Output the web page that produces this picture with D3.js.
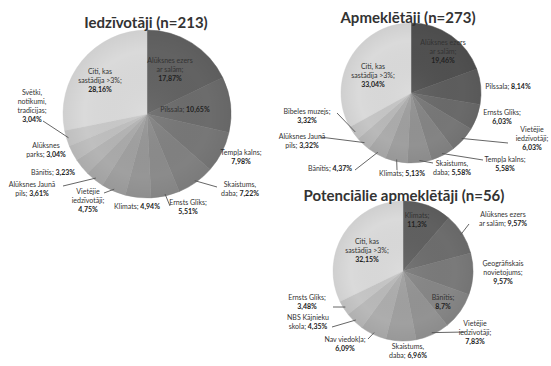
<!DOCTYPE html>
<html>
<head>
<meta charset="utf-8">
<script src="https://cdn.jsdelivr.net/npm/d3@7"></script>
<style>
  html, body { margin: 0; padding: 0; background: #fff; }
  svg { display: block; }
  .title { font-family: Lato, "Open Sans", sans-serif; font-weight: 700; fill: #333; }
  .lbl { font-family: Lato, "Open Sans", sans-serif; font-size: 7px; fill: #333; }
  .lbl .val { font-weight: 700; fill: #222; }
</style>
</head>
<body>
<svg id="chart" width="551" height="366"></svg>
<script>
// Residents (n=213)
const residentsCategories = ["Alūksnes ezers\nar salām", "Pilssala", "Tempļa kalns", "Skaistums,\ndaba", "Ernsts Glīks", "Klimats", "Vietējie\niedzīvotāji", "Alūksnes Jaunā\npils", "Bānītis", "Alūksnes\nparks", "Svētki,\nnotikumi,\ntradīcijas", "Citi, kas\nsastādīja >3%"];
const residentsValues = [17.87, 10.65, 7.98, 7.22, 5.51, 4.94, 4.75, 3.61, 3.23, 3.04, 3.04, 28.16];

// Visitors (n=273)
const visitorsCategories = ["Alūksnes ezers\nar salām", "Pilssala", "Ernsts Glīks", "Vietējie\niedzīvotāji", "Tempļa kalns", "Skaistums,\ndaba", "Klimats", "Bānītis", "Alūksnes Jaunā\npils", "Bībeles muzejs", "Citi, kas\nsastādīja >3%"];
const visitorsValues = [19.46, 8.14, 6.03, 6.03, 5.58, 5.58, 5.13, 4.37, 3.32, 3.32, 33.04];

// Potential visitors (n=56)
const potentialCategories = ["Klimats", "Alūksnes ezers\nar salām", "Ģeogrāfiskais\nnovietojums", "Bānītis", "Vietējie\niedzīvotāji", "Skaistums,\ndaba", "Nav viedokļa", "NBS Kājnieku\nskola", "Ernsts Glīks", "Citi, kas\nsastādīja >3%"];
const potentialValues = [11.3, 9.57, 9.57, 8.7, 7.83, 6.96, 6.09, 4.35, 3.48, 32.15];

const chartTitles = ["Iedzīvotāji (n=213)", "Apmeklētāji (n=273)", "Potenciālie apmeklētāji (n=56)"];

// Label placement relative to each pie centre: label anchor (dx, dy),
// whether the value goes on its own line, and optional leader-line end.
const residentsLayout = [
  {dx: 23, dy: -53, nl: true},
  {dx: 38, dy: -4, nl: false},
  {dx: 94, dy: 39, nl: true},
  {dx: 93, dy: 71, nl: false, lead: [70, 73]},
  {dx: 41, dy: 89, nl: true, lead: [23, 92]},
  {dx: -10, dy: 93, nl: false},
  {dx: -59, dy: 78, nl: true, lead: [-43, 79]},
  {dx: -115, dy: 71, nl: false, lead: [-84, 72]},
  {dx: -94, dy: 59, nl: false},
  {dx: -101, dy: 32, nl: false},
  {dx: -115, dy: -21, nl: true, lead: [-104, 7]},
  {dx: -47, dy: -42, nl: true}
];
const visitorsLayout = [
  {dx: 32, dy: -50, nl: true},
  {dx: 97, dy: -6, nl: false},
  {dx: 91, dy: 20, nl: true},
  {dx: 121, dy: 37, nl: true, lead: [97, 50]},
  {dx: 94, dy: 67, nl: true, lead: [72, 67]},
  {dx: 41, dy: 71, nl: false, lead: [22, 70]},
  {dx: -9, dy: 81, nl: false, lead: [-14, 77]},
  {dx: -81, dy: 76, nl: false, lead: [-56, 77]},
  {dx: -109, dy: 44, nl: false, lead: [-91, 44]},
  {dx: -104, dy: 19, nl: true, lead: [-74, 20]},
  {dx: -38, dy: -26, nl: true}
];
const potentialLayout = [
  {dx: 14, dy: -55, nl: true},
  {dx: 100, dy: -56, nl: false, lead: [66, -47]},
  {dx: 100, dy: -7, nl: true},
  {dx: 40, dy: 27, nl: true},
  {dx: 72, dy: 53, nl: true, lead: [62, 61]},
  {dx: 5, dy: 76, nl: false},
  {dx: -58, dy: 69, nl: true, lead: [-35, 68]},
  {dx: -95, dy: 47, nl: false, lead: [-71, 56]},
  {dx: -96, dy: 27, nl: true, lead: [-70, 36]},
  {dx: -36, dy: -29, nl: true}
];

const svg = d3.select("#chart");
const defs = svg.append("defs");
const fmt = v => String(v).replace(".", ",") + "%";

function drawPie(cfg) {
  const {id, cx, cy, r, cats, vals, layout, dark, light, title, titleY, titleX, titleSize} = cfg;
  const g = svg.append("g").attr("transform", `translate(${cx},${cy})`);
  const pie = d3.pie().sort(null).value(d => d);
  const arcs = pie(vals);
  const n = vals.length;
  const shade = d3.scaleLinear().domain([0, n - 2]).range([dark, light]).interpolate(d3.interpolateRgb);
  const color = i => i === n - 1 ? "#dadada" : shade(i);
  const arc = d3.arc().innerRadius(0).outerRadius(r);

  g.selectAll("path.slice").data(arcs).join("path")
    .attr("class", "slice")
    .attr("d", arc)
    .attr("fill", (d, i) => color(i))
    .attr("stroke", (d, i) => d3.color(color(i)).darker(0.08))
    .attr("stroke-width", 0.5);

  // soft radial shading across the disc
  const grad = defs.append("radialGradient").attr("id", id)
    .attr("gradientUnits", "userSpaceOnUse").attr("cx", 0).attr("cy", 0).attr("r", r);
  grad.append("stop").attr("offset", "0%").attr("stop-color", "#fff").attr("stop-opacity", 0.06);
  grad.append("stop").attr("offset", "75%").attr("stop-color", "#000").attr("stop-opacity", 0.0);
  grad.append("stop").attr("offset", "100%").attr("stop-color", "#000").attr("stop-opacity", 0.05);
  g.append("circle").attr("r", r).attr("fill", `url(#${id})`).attr("pointer-events", "none");

  // leader lines
  arcs.forEach((d, i) => {
    const L = layout[i];
    if (!L.lead) return;
    const mid = (d.startAngle + d.endAngle) / 2;
    const p = [Math.sin(mid) * (r - 2), -Math.cos(mid) * (r - 2)];
    g.append("line").attr("x1", p[0]).attr("y1", p[1]).attr("x2", L.lead[0]).attr("y2", L.lead[1])
      .attr("stroke", "#555").attr("stroke-width", 0.9);
  });

  // labels
  arcs.forEach((d, i) => {
    const L = layout[i];
    const lines = cats[i].split("\n");
    const t = g.append("text").attr("class", "lbl").attr("text-anchor", "middle")
      .attr("x", L.dx).attr("y", L.dy);
    const lh = 9;
    lines.forEach((ln, k) => {
      const last = k === lines.length - 1;
      t.append("tspan").attr("x", L.dx).attr("dy", k === 0 ? "0.33em" : lh).text(ln + (last ? ";" : ""));
      if (last && !L.nl) {
        t.append("tspan").attr("class", "val").text(" " + fmt(vals[i]));
      }
    });
    if (L.nl) {
      t.append("tspan").attr("class", "val").attr("x", L.dx).attr("dy", lh).text(fmt(vals[i]));
    }
  });

  svg.append("text").attr("class", "title").attr("x", titleX).attr("y", titleY)
    .attr("text-anchor", "middle").style("font-size", titleSize + "px").text(title);
}

drawPie({id: "g1", cx: 147, cy: 114, r: 84, cats: residentsCategories, vals: residentsValues,
  layout: residentsLayout, dark: "#626262", light: "#c9c9c9", title: chartTitles[0], titleX: 146, titleY: 28, titleSize: 15});
drawPie({id: "g2", cx: 411, cy: 93, r: 70, cats: visitorsCategories, vals: visitorsValues,
  layout: visitorsLayout, dark: "#505050", light: "#c6c6c6", title: chartTitles[1], titleX: 408, titleY: 23, titleSize: 15});
drawPie({id: "g3", cx: 403, cy: 271, r: 70, cats: potentialCategories, vals: potentialValues,
  layout: potentialLayout, dark: "#606060", light: "#c6c6c6", title: chartTitles[2], titleX: 404, titleY: 201, titleSize: 15});
</script>
</body>
</html>
